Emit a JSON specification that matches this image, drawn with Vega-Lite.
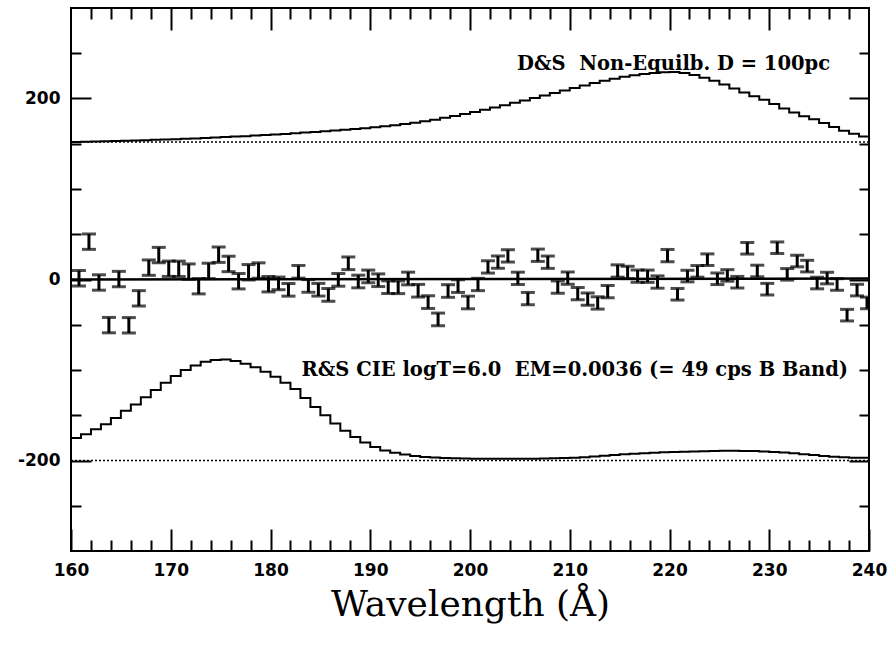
{
  "$schema": "https://vega.github.io/schema/vega-lite/v6.json",
  "autosize": {"type": "none"},
  "padding": {"left": 71, "top": 8, "right": 24, "bottom": 110},
  "width": 798,
  "height": 543,
  "background": "white",
  "config": {
    "view": {"stroke": "black", "strokeWidth": 2},
    "axis": {"grid": false, "domain": false, "labelFont": "DejaVu Sans", "labelFontWeight": "bold", "labelFontSize": 17, "labelColor": "black", "tickColor": "black", "tickWidth": 2, "titleColor": "black"}
  },
  "datasets": {
    "base": [{"x1": 160, "x2": 240, "y": 152}, {"x1": 160, "x2": 240, "y": -200}],
    "ds": [
      {"lam":160,"flux":152},{"lam":161,"flux":152.2},{"lam":162,"flux":152.4},{"lam":163,"flux":152.7},{"lam":164,"flux":153},{"lam":165,"flux":153.3},{"lam":166,"flux":153.6},{"lam":167,"flux":153.9},{"lam":168,"flux":154.3},{"lam":169,"flux":154.7},
      {"lam":170,"flux":155.1},{"lam":171,"flux":155.5},{"lam":172,"flux":155.9},{"lam":173,"flux":156.4},{"lam":174,"flux":156.9},{"lam":175,"flux":157.4},{"lam":176,"flux":157.9},{"lam":177,"flux":158.4},{"lam":178,"flux":159},{"lam":179,"flux":159.6},
      {"lam":180,"flux":160.2},{"lam":181,"flux":160.9},{"lam":182,"flux":161.6},{"lam":183,"flux":162.3},{"lam":184,"flux":163},{"lam":185,"flux":163.8},{"lam":186,"flux":164.6},{"lam":187,"flux":165.4},{"lam":188,"flux":166.3},{"lam":189,"flux":167.2},
      {"lam":190,"flux":168.2},{"lam":191,"flux":169.3},{"lam":192,"flux":170.5},{"lam":193,"flux":171.8},{"lam":194,"flux":173.2},{"lam":195,"flux":174.8},{"lam":196,"flux":176.6},{"lam":197,"flux":178.6},{"lam":198,"flux":180.7},{"lam":199,"flux":182.9},
      {"lam":200,"flux":185.2},{"lam":201,"flux":187.6},{"lam":202,"flux":190.1},{"lam":203,"flux":192.6},{"lam":204,"flux":195.2},{"lam":205,"flux":197.8},{"lam":206,"flux":200.5},{"lam":207,"flux":203.2},{"lam":208,"flux":206},{"lam":209,"flux":208.8},
      {"lam":210,"flux":211.6},{"lam":211,"flux":214.3},{"lam":212,"flux":217},{"lam":213,"flux":219.5},{"lam":214,"flux":221.8},{"lam":215,"flux":223.9},{"lam":216,"flux":225.7},{"lam":217,"flux":227.2},{"lam":218,"flux":228.3},{"lam":219,"flux":229},
      {"lam":220,"flux":229.3},{"lam":221,"flux":228.2},{"lam":222,"flux":226},{"lam":223,"flux":223},{"lam":224,"flux":219.5},{"lam":225,"flux":215.5},{"lam":226,"flux":211},{"lam":227,"flux":206.5},{"lam":228,"flux":202.5},{"lam":229,"flux":198.5},
      {"lam":230,"flux":194},{"lam":231,"flux":189},{"lam":232,"flux":184.5},{"lam":233,"flux":180.5},{"lam":234,"flux":177},{"lam":235,"flux":173},{"lam":236,"flux":168.5},{"lam":237,"flux":164.5},{"lam":238,"flux":161},{"lam":239,"flux":158},{"lam":240,"flux":155}
    ],
    "rs": [
      {"lam":160,"flux":-175},{"lam":161,"flux":-171},{"lam":162,"flux":-165.5},{"lam":163,"flux":-160},{"lam":164,"flux":-153},{"lam":165,"flux":-145},{"lam":166,"flux":-138},{"lam":167,"flux":-130},{"lam":168,"flux":-122},{"lam":169,"flux":-114},
      {"lam":170,"flux":-106.5},{"lam":171,"flux":-100},{"lam":172,"flux":-95},{"lam":173,"flux":-91},{"lam":174,"flux":-89},{"lam":175,"flux":-88.5},{"lam":176,"flux":-90},{"lam":177,"flux":-93},{"lam":178,"flux":-97},{"lam":179,"flux":-102},
      {"lam":180,"flux":-107.5},{"lam":181,"flux":-114},{"lam":182,"flux":-121},{"lam":183,"flux":-131},{"lam":184,"flux":-141},{"lam":185,"flux":-150},{"lam":186,"flux":-159},{"lam":187,"flux":-167},{"lam":188,"flux":-174},{"lam":189,"flux":-180},
      {"lam":190,"flux":-185},{"lam":191,"flux":-189},{"lam":192,"flux":-191.5},{"lam":193,"flux":-193.5},{"lam":194,"flux":-195},{"lam":195,"flux":-196},{"lam":196,"flux":-196.8},{"lam":197,"flux":-197.3},{"lam":198,"flux":-197.6},{"lam":199,"flux":-197.8},
      {"lam":200,"flux":-198},{"lam":201,"flux":-198},{"lam":202,"flux":-198},{"lam":203,"flux":-198},{"lam":204,"flux":-198},{"lam":205,"flux":-198},{"lam":206,"flux":-198},{"lam":207,"flux":-197.8},{"lam":208,"flux":-197.6},{"lam":209,"flux":-197.3},
      {"lam":210,"flux":-197},{"lam":211,"flux":-196.4},{"lam":212,"flux":-195.6},{"lam":213,"flux":-194.8},{"lam":214,"flux":-194},{"lam":215,"flux":-193.2},{"lam":216,"flux":-192.5},{"lam":217,"flux":-192},{"lam":218,"flux":-191.5},{"lam":219,"flux":-191},
      {"lam":220,"flux":-190.6},{"lam":221,"flux":-190.2},{"lam":222,"flux":-190},{"lam":223,"flux":-189.7},{"lam":224,"flux":-189.5},{"lam":225,"flux":-189.3},{"lam":226,"flux":-189.3},{"lam":227,"flux":-189.4},{"lam":228,"flux":-189.6},{"lam":229,"flux":-190},
      {"lam":230,"flux":-190.5},{"lam":231,"flux":-191.2},{"lam":232,"flux":-192},{"lam":233,"flux":-193},{"lam":234,"flux":-194},{"lam":235,"flux":-195},{"lam":236,"flux":-195.8},{"lam":237,"flux":-196.5},{"lam":238,"flux":-197},{"lam":239,"flux":-197},{"lam":240,"flux":-197}
    ],
    "fit": [{"lam": 160, "flux": 0}, {"lam": 240, "flux": 1}],
    "obs": [
      {"lam":160.8,"v":1.4,"err":8.5},{"lam":161.8,"v":41.8,"err":8.5},{"lam":162.8,"v":-3.3,"err":8.5},{"lam":163.8,"v":-50.4,"err":8.5},{"lam":164.8,"v":0.5,"err":8.5},
      {"lam":165.8,"v":-50.6,"err":8.5},{"lam":166.8,"v":-20.8,"err":8.5},{"lam":167.8,"v":13.1,"err":8.5},{"lam":168.8,"v":27,"err":8.5},{"lam":169.8,"v":11.9,"err":8.5},
      {"lam":170.8,"v":11.8,"err":8.5},{"lam":171.8,"v":8.7,"err":8.5},{"lam":172.8,"v":-7.4,"err":8.5},{"lam":173.8,"v":9.5,"err":8.5},{"lam":174.8,"v":27.4,"err":8.5},
      {"lam":175.8,"v":17.2,"err":8.5},{"lam":176.8,"v":-1.9,"err":8.5},{"lam":177.8,"v":8,"err":8.5},{"lam":178.8,"v":9.9,"err":8.5},{"lam":179.8,"v":-5.2,"err":8.5},
      {"lam":180.8,"v":-4.3,"err":7},{"lam":181.8,"v":-11.4,"err":7},{"lam":182.8,"v":8.5,"err":7},{"lam":183.8,"v":-7.1,"err":7},{"lam":184.8,"v":-11.3,"err":7},
      {"lam":185.8,"v":-16.9,"err":7},{"lam":186.8,"v":-0.4,"err":7},{"lam":187.8,"v":17.9,"err":7},{"lam":188.8,"v":-2.2,"err":7},{"lam":189.8,"v":3.4,"err":7},
      {"lam":190.8,"v":-0.8,"err":7},{"lam":191.8,"v":-8.5,"err":7},{"lam":192.8,"v":-8.6,"err":7},{"lam":193.8,"v":1.1,"err":7},{"lam":194.8,"v":-12.4,"err":7},
      {"lam":195.8,"v":-25,"err":7},{"lam":196.8,"v":-44.1,"err":7},{"lam":197.8,"v":-12.7,"err":7},{"lam":198.8,"v":-7.3,"err":7},{"lam":199.8,"v":-25.4,"err":7},
      {"lam":200.8,"v":-5.5,"err":6.8},{"lam":201.8,"v":13.9,"err":6.8},{"lam":202.8,"v":19.2,"err":6.8},{"lam":203.8,"v":26.1,"err":6.8},{"lam":204.8,"v":1.3,"err":6.8},
      {"lam":205.8,"v":-21.1,"err":6.8},{"lam":206.8,"v":26.8,"err":6.8},{"lam":207.8,"v":19.1,"err":6.8},{"lam":208.8,"v":-8.4,"err":6.8},{"lam":209.8,"v":1.5,"err":6.8},
      {"lam":210.8,"v":-15.6,"err":6.8},{"lam":211.8,"v":-21.7,"err":6.8},{"lam":212.8,"v":-25.9,"err":6.8},{"lam":213.8,"v":-13.4,"err":6.8},{"lam":214.8,"v":9.4,"err":6.8},
      {"lam":215.8,"v":7.8,"err":6.8},{"lam":216.8,"v":3.7,"err":6.8},{"lam":217.8,"v":3.6,"err":6.8},{"lam":218.8,"v":-2.8,"err":6.8},{"lam":219.8,"v":26.4,"err":6.8},
      {"lam":220.8,"v":-16.3,"err":6.4},{"lam":221.8,"v":3.8,"err":6.4},{"lam":222.8,"v":9,"err":6.4},{"lam":223.8,"v":21.9,"err":6.4},{"lam":224.8,"v":0.8,"err":6.4},
      {"lam":225.8,"v":4.5,"err":6.4},{"lam":226.8,"v":-3,"err":6.4},{"lam":227.8,"v":34.5,"err":6.4},{"lam":228.8,"v":9.4,"err":6.4},{"lam":229.8,"v":-10.7,"err":6.4},
      {"lam":230.8,"v":35.1,"err":6.4},{"lam":231.8,"v":5.7,"err":6.4},{"lam":232.8,"v":20.4,"err":6.4},{"lam":233.8,"v":14.8,"err":6.4},{"lam":234.8,"v":-3.9,"err":6.4},
      {"lam":235.8,"v":1.6,"err":6.4},{"lam":236.8,"v":-5.5,"err":6.4},{"lam":237.8,"v":-39.4,"err":6.4},{"lam":238.8,"v":-11.7,"err":6.4},{"lam":239.8,"v":-25.9,"err":6.4}
    ],
    "labels": [
      {"lam": 236.1, "v": 238, "text": "D&S\u00a0 Non-Equilb. D = 100pc"},
      {"lam": 237.9, "v": -100, "text": "R&S CIE logT=6.0\u00a0 EM=0.0036 (= 49 cps B Band)"}
    ]
  },
  "resolve": {"axis": {"x": "independent", "y": "independent"}},
  "layer": [
    {
      "data": {"name": "base"},
      "mark": {"type": "rule", "color": "black", "strokeWidth": 1.6, "strokeDash": [2, 2]},
      "encoding": {
        "x": {"field": "x1", "type": "quantitative", "scale": {"domain": [160, 240], "nice": false, "zero": false},
              "axis": {"orient": "bottom", "values": [160, 170, 180, 190, 200, 210, 220, 230, 240], "ticks": false, "labels": true, "labelPadding": 11, "labelFlush": false,
                       "title": "Wavelength (Å)", "titleFont": "DejaVu Serif", "titleFontSize": 36, "titleFontWeight": "normal", "titlePadding": 9}},
        "x2": {"field": "x2"},
        "y": {"field": "y", "type": "quantitative", "scale": {"domain": [-300, 300], "nice": false, "zero": false},
              "axis": {"orient": "left", "values": [-200, 0, 200], "ticks": false, "labels": true, "labelPadding": 11, "labelExpr": "'' + datum.value", "title": null}}
      }
    },
    {
      "data": {"name": "ds"},
      "mark": {"type": "line", "color": "black", "strokeWidth": 2, "interpolate": "step-after"},
      "encoding": {
        "x": {"field": "lam", "type": "quantitative", "scale": {"domain": [160, 240], "nice": false, "zero": false},
              "axis": {"orient": "bottom", "values": [160, 170, 180, 190, 200, 210, 220, 230, 240], "tickSize": -22, "labels": false, "title": null}},
        "y": {"field": "flux", "type": "quantitative", "scale": {"domain": [-300, 300], "nice": false, "zero": false},
              "axis": {"orient": "left", "values": [-200, 0, 200], "tickSize": -20, "labels": false, "title": null}}
      }
    },
    {
      "data": {"name": "rs"},
      "mark": {"type": "line", "color": "black", "strokeWidth": 2, "interpolate": "step-after"},
      "encoding": {
        "x": {"field": "lam", "type": "quantitative",
              "axis": {"orient": "bottom", "values": [162, 164, 166, 168, 172, 174, 176, 178, 182, 184, 186, 188, 192, 194, 196, 198, 202, 204, 206, 208, 212, 214, 216, 218, 222, 224, 226, 228, 232, 234, 236, 238], "tickSize": -11, "labels": false, "title": null}},
        "y": {"field": "flux", "type": "quantitative",
              "axis": {"orient": "left", "values": [-250, -150, -100, -50, 50, 100, 150, 250], "tickSize": -10, "labels": false, "title": null}}
      }
    },
    {
      "data": {"name": "fit"},
      "mark": {"type": "line", "color": "black", "strokeWidth": 2.5},
      "encoding": {
        "x": {"field": "lam", "type": "quantitative",
              "axis": {"orient": "top", "values": [170, 180, 190, 200, 210, 220, 230], "tickSize": -22, "labels": false, "title": null}},
        "y": {"field": "flux", "type": "quantitative",
              "axis": {"orient": "right", "values": [-200, 0, 200], "tickSize": -20, "labels": false, "title": null}}
      }
    },
    {
      "data": {"name": "labels"},
      "mark": {"type": "text", "color": "black", "font": "DejaVu Serif", "fontSize": 19.5, "fontWeight": "bold", "align": "right", "baseline": "middle"},
      "encoding": {
        "x": {"field": "lam", "type": "quantitative",
              "axis": {"orient": "top", "values": [162, 164, 166, 168, 172, 174, 176, 178, 182, 184, 186, 188, 192, 194, 196, 198, 202, 204, 206, 208, 212, 214, 216, 218, 222, 224, 226, 228, 232, 234, 236, 238], "tickSize": -11, "labels": false, "title": null}},
        "y": {"field": "v", "type": "quantitative",
              "axis": {"orient": "right", "values": [-250, -150, -100, -50, 50, 100, 150, 250], "tickSize": -10, "labels": false, "title": null}},
        "text": {"field": "text"}
      }
    },
    {
      "data": {"name": "obs"},
      "mark": {"type": "errorbar", "ticks": {"size": 14}, "thickness": 3, "color": "black", "clip": true},
      "encoding": {
        "x": {"field": "lam", "type": "quantitative", "axis": null},
        "y": {"field": "v", "type": "quantitative", "axis": null},
        "yError": {"field": "err"}
      }
    }
  ]
}
